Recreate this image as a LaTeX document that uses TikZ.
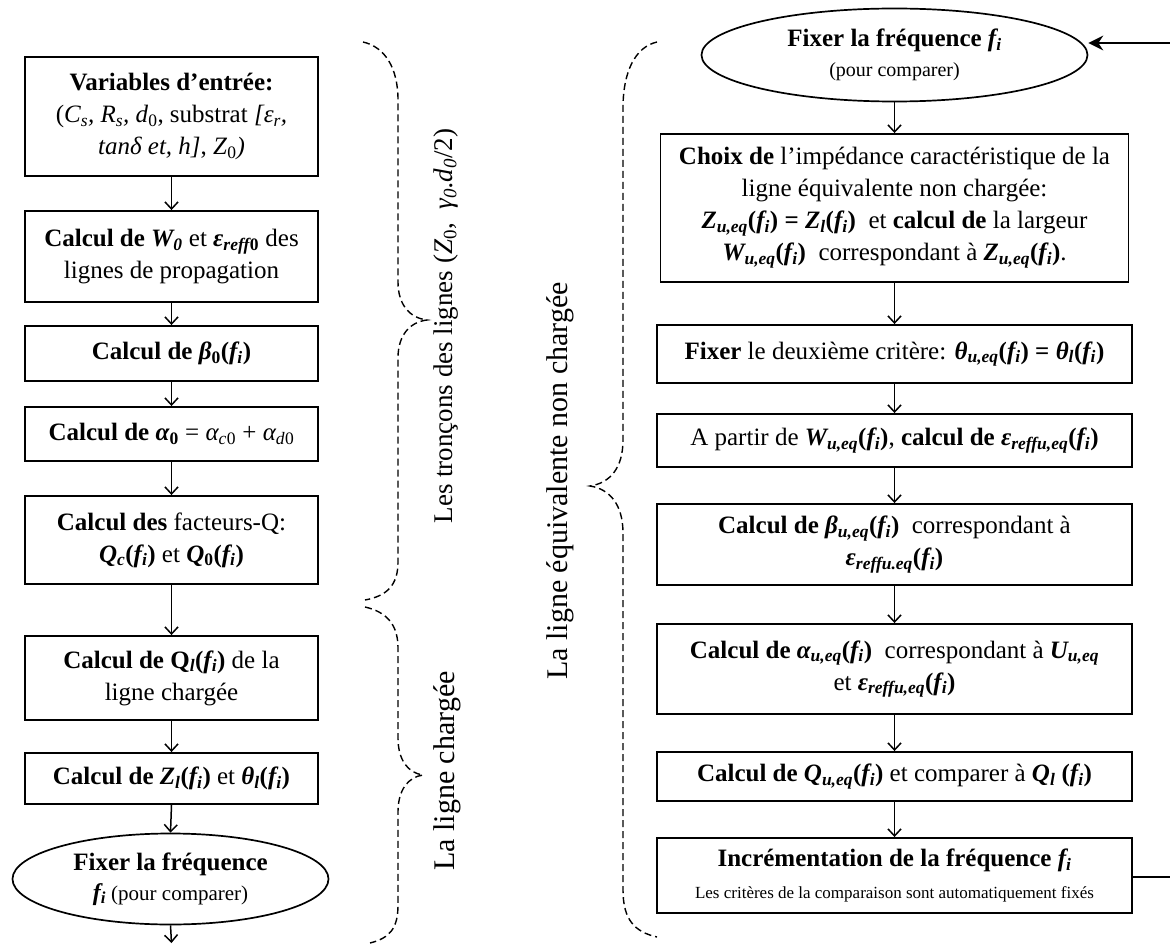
\documentclass[tikz,border=0pt]{standalone}
\usepackage{fontspec}
\setmainfont{Liberation Serif}
\usetikzlibrary{arrows.meta,shapes.geometric}
\newcommand{\sbs}[1]{\textsubscript{#1}}
\newcommand{\fI}{\textit{f\sbs{i}}}
\begin{document}
\begin{tikzpicture}[x=1pt,y=-1pt,
  box/.style={draw, line width=1.9pt, align=center, inner sep=1pt, font=\fontsize{25}{32}\selectfont},
  oval/.style={draw, ellipse, line width=1.7pt, align=center, inner sep=0pt, font=\fontsize{25}{30}\selectfont},
  flow/.style={line width=1.5pt, -{Straight Barb[length=7pt,width=13pt,line width=1.5pt]}},
  fb/.style={line width=1.7pt},
  brace/.style={line width=1.4pt, dash pattern=on 7pt off 4pt},
  lab/.style={rotate=90, font=\fontsize{30}{36}\selectfont}]
\useasboundingbox (0,0) rectangle (1170,947);

% left column
\node[box, minimum width=293pt, minimum height=119pt] (b1) at (171.5,116.5)
  {\textbf{Variables d’entrée:}\\ (\textit{C\sbs{s}, R\sbs{s}, d}\sbs{0}, substrat \textit{[ε\sbs{r},}\\ \textit{tanδ et, h]}, \textit{Z}\sbs{0}\textit{)}};
\node[box, minimum width=293pt, minimum height=91pt] (b2) at (171.5,256.5)
  {\textbf{Calcul de \textit{W\sbs{0}}} et \textbf{\textit{ε\sbs{reff}}\sbs{0}} des\\ lignes de propagation};
\node[box, minimum width=293pt, minimum height=55pt] (b3) at (171.5,353.5)
  {\textbf{Calcul de \textit{β}\sbs{0}(\fI)}};
\node[box, minimum width=293pt, minimum height=54pt] (b4) at (171.5,434)
  {\textbf{Calcul de \textit{α}\sbs{0}} = \textit{α\sbs{c}}\sbs{0} + \textit{α\sbs{d}}\sbs{0}};
\node[box, minimum width=293pt, minimum height=88pt] (b5) at (171.5,540)
  {\textbf{Calcul des} facteurs-Q:\\ \textbf{\textit{Q\sbs{c}}(\fI)} et \textbf{\textit{Q}\sbs{0}(\fI)}};
\node[box, minimum width=293pt, minimum height=84pt] (b6) at (171.5,678)
  {\textbf{Calcul de Q\sbs{\textit{l}}(\fI)} de la\\ ligne chargée};
\node[box, minimum width=293pt, minimum height=51pt] (b7) at (171.5,778.5)
  {\textbf{Calcul de \textit{Z\sbs{l}}(\fI)} et \textbf{\textit{θ\sbs{l}}(\fI)}};
\node[oval, minimum width=316pt, minimum height=91pt] (e1) at (170.5,879)
  {\textbf{Fixer la fréquence}\\ {\fontsize{21}{26}\selectfont\textbf{\textit{\fontsize{24}{26}\selectfont f\sbs{i}}} (pour comparer)}};
\coordinate (endL) at (171.5,943);

\draw[flow] (b1) -- (b2);
\draw[flow] (b2) -- (b3);
\draw[flow] (b3) -- (b4);
\draw[flow] (b4) -- (b5);
\draw[flow] (b5) -- (b6);
\draw[flow] (b6) -- (b7);
\draw[flow] (b7.south) -- (e1.north);
\draw[flow] (e1.south) -- (endL);

% right column
\node[oval, minimum width=386pt, minimum height=93pt] (e2) at (894.5,55)
  {\textbf{Fixer la fréquence \textit{f\sbs{i}}}\\ {\fontsize{20}{24}\selectfont (pour comparer)}};
\node[box, minimum width=468pt, minimum height=148pt] (r1) at (894.5,208)
  {\textbf{Choix de} l’impédance caractéristique de la\\ ligne équivalente non chargée:\\
   \textbf{\textit{Z\sbs{u,eq}}(\fI) = \textit{Z\sbs{l}}(\fI)}\ \ et \textbf{calcul de} la largeur\\
   \textbf{\textit{W\sbs{u,eq}}(\fI)}\ \ correspondant à \textbf{\textit{Z\sbs{u,eq}}(\fI)}.};
\node[box, minimum width=475pt, minimum height=58pt] (r2) at (894.5,354)
  {\textbf{Fixer} le deuxième critère: \textbf{\textit{θ\sbs{u,eq}}(\fI) = \textit{θ\sbs{l}}(\fI)}};
\node[box, minimum width=475pt, minimum height=53pt] (r3) at (894.5,440.5)
  {A partir de \textbf{\textit{W\sbs{u,eq}}(\fI)}, \textbf{calcul de \textit{ε\sbs{reffu,eq}}(\fI)}};
\node[box, minimum width=475pt, minimum height=81pt] (r4) at (894.5,544.5)
  {\textbf{Calcul de \textit{β\sbs{u,eq}}(\fI)}\ \ correspondant à\\ \textbf{\textit{ε\sbs{reffu.eq}}(\fI)}};
\node[box, minimum width=475pt, minimum height=90pt] (r5) at (894.5,669)
  {\textbf{Calcul de \textit{α\sbs{u,eq}}(\fI)}\ \ correspondant à \textbf{\textit{U\sbs{u,eq}}}\\ et \textbf{\textit{ε\sbs{reffu,eq}}(\fI)}};
\node[box, minimum width=475pt, minimum height=49pt] (r6) at (894.5,776.5)
  {\textbf{Calcul de \textit{Q\sbs{u,eq}}(\fI)} et comparer à \textbf{\textit{Q\sbs{l}} (\fI)}};
\node[box, minimum width=475pt, minimum height=75pt] (r7) at (894.5,875.5)
  {\textbf{Incrémentation de la fréquence \textit{f\sbs{i}}}\\ {\fontsize{17}{21}\selectfont Les critères de la comparaison sont automatiquement fixés}};

\draw[flow] (e2.south) -- (r1.north);
\draw[flow] (r1) -- (r2);
\draw[flow] (r2) -- (r3);
\draw[flow] (r3) -- (r4);
\draw[flow] (r4) -- (r5);
\draw[flow] (r5) -- (r6);
\draw[flow] (r6) -- (r7);

\coordinate (fbR) at (1170,877);
\coordinate (fbT) at (1170,43);
\draw[fb] (r7.east |- fbR) -- (fbR);
\draw[fb, -{Stealth[length=15pt,width=15pt,inset=5pt]}] (fbT) -- (fbT -| e2.east);

% braces
\draw[brace] (363,42) .. controls (385,47) and (398,68) .. (398,100) -- (398,282)
  .. controls (398,305) and (410,318) .. (427,320) .. controls (410,322) and (398,335) .. (398,358)
  -- (398,562) .. controls (398,585) and (387,596) .. (365,600);
\draw[brace] (365,607) .. controls (387,612) and (398,625) .. (398,648) -- (398,738)
  .. controls (398,760) and (408,773) .. (423,775) .. controls (408,777) and (398,790) .. (398,812)
  -- (398,905) .. controls (398,928) and (390,938) .. (370,943);
\draw[brace] (657,42) .. controls (635,47) and (623,72) .. (623,108) -- (623,440)
  .. controls (623,468) and (610,483) .. (590,486) .. controls (610,489) and (623,505) .. (623,533)
  -- (623,890) .. controls (623,920) and (635,932) .. (657,937);

% brace labels
\node[lab, font=\fontsize{27}{32}\selectfont] (l1) at (446,326) {Les tronçons des lignes (\textit{Z}\sbs{0},\ \ \textit{γ\sbs{0}.d\sbs{0}}/2)};
\node[lab] (l2) at (447,771) {La ligne chargée};
\node[lab] (l3) at (560,481) {La ligne équivalente non chargée};
\end{tikzpicture}
\end{document}
